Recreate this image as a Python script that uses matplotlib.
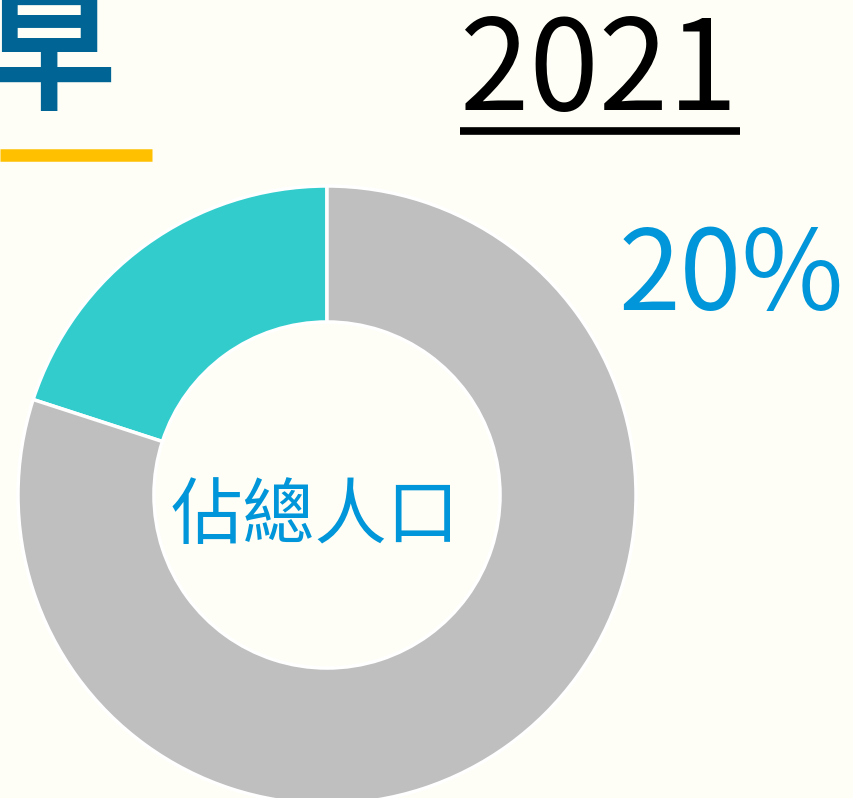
import matplotlib
matplotlib.use("Agg")
import matplotlib.pyplot as plt

plt.rcParams['font.family'] = ['Noto Sans CJK TC', 'DejaVu Sans']

# data
shares = [20, 80]
share_colors = ['#33cccc', '#bfbfbf']
center_label = "佔總人口"
year = "2021"
title_tail = "早"

W, H = 854, 798
fig = plt.figure(figsize=(W / 100, H / 100), dpi=100)
fig.patch.set_facecolor('#fefef6')
ax = fig.add_axes([0, 0, 1, 1])
ax.set_facecolor('#fefef6')

# donut
R = 309
ax.pie(shares, colors=share_colors, startangle=90, counterclock=True,
       radius=R, center=(327, H - 495),
       wedgeprops=dict(width=R * 0.44, edgecolor='white', linewidth=2.5))

ax.set_xlim(0, W)
ax.set_ylim(0, H)
ax.set_aspect('equal')
ax.axis('off')

# cut-off title character and yellow rule
ax.text(49, H - 128, title_tail, fontsize=96, fontweight='bold', color='#006595',
        ha='center', va='bottom')
ax.plot([0, 152], [H - 155, H - 155], color='#ffc000', linewidth=9,
        solid_capstyle='butt')

# year with underline
ax.text(599, H - 110, year, fontsize=90, color='black',
        ha='center', va='baseline')
ax.plot([460, 740], [H - 131, H - 131], color='black', linewidth=5.5,
        solid_capstyle='butt')

# percentage
ax.text(731, H - 310, f"{shares[0]}%", fontsize=80,
        color='#0096d9', ha='center', va='baseline')

# center label
ax.text(315, H - 518, center_label, fontsize=52,
        color='#0096d9', ha='center', va='center')

fig.savefig("out.png", dpi=100, facecolor=fig.get_facecolor())
